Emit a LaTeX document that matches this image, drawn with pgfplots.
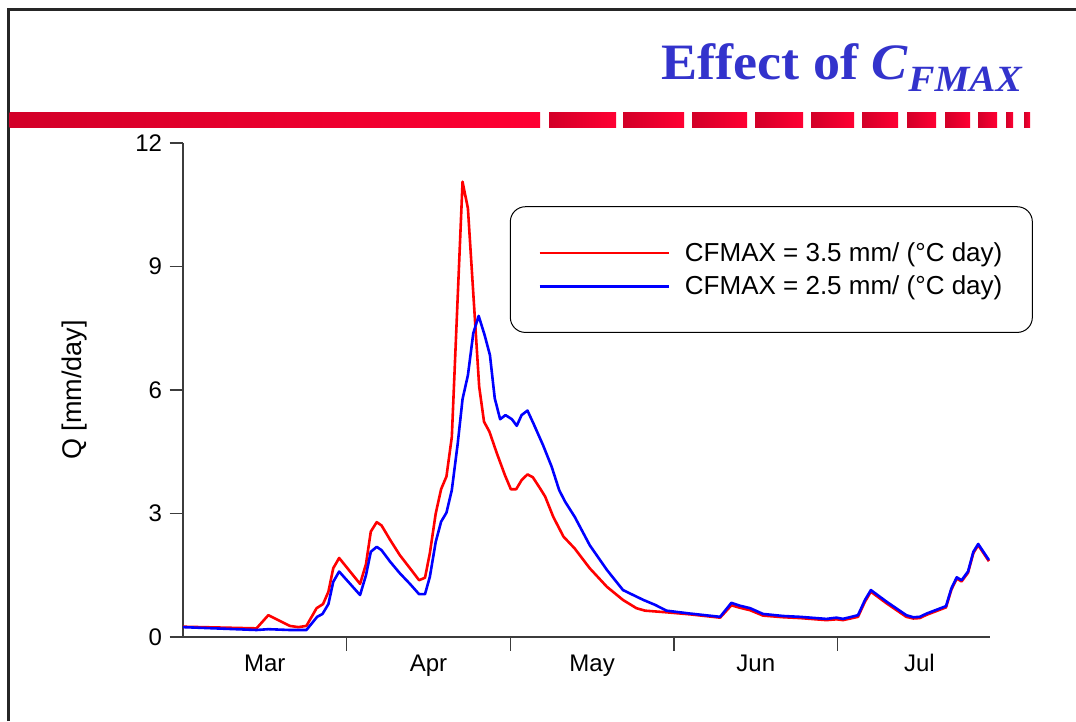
\documentclass[border=0pt]{standalone}
\usepackage{pgfplots}
\pgfplotsset{compat=1.18}
\usepackage{fontspec}
\setmainfont{Liberation Sans}
\newfontfamily\titlefont{Liberation Serif}
\definecolor{titleblue}{RGB}{51,51,204}
\definecolor{barL}{RGB}{210,0,40}
\definecolor{barR}{RGB}{255,0,51}
\definecolor{axisgray}{RGB}{60,60,60}

\begin{document}
\begin{tikzpicture}[x=1pt,y=1pt]
\useasboundingbox (0,0) rectangle (1076,721);
\fill[white] (0,0) rectangle (1076,721);
% slide frame
\draw[line width=3pt, black!85] (8,0) -- (8,711.5) -- (1076,711.5);
% red header bar
\shade[left color=barL, right color=barR] (9.5,593) rectangle (540,608);
\foreach \a/\b in {549/616,623/684,692/747,755/803,811/854,862/898,907/936,945/970,978/997,1006/1013,1024/1030}{
  \shade[left color=barL, right color=barR] (\a,593) rectangle (\b,608);
}
% title
\node[anchor=base east, inner sep=0, text=titleblue] at (1022,641)
  {\scalebox{1.06}[1]{\titlefont\bfseries\fontsize{51}{51}\selectfont Effect of \textit{C}\raisebox{-12pt}{\fontsize{37}{37}\selectfont\itshape FMAX}}};

\begin{axis}[
  at={(183pt,84pt)}, anchor=south west,
  scale only axis, width=807pt, height=494pt,
  xmin=0, xmax=150.4, ymin=0, ymax=12,
  axis x line*=bottom, axis y line*=left,
  axis line style={axisgray, line width=1.2pt},
  every tick/.style={axisgray, line width=1.2pt},
  tick align=outside, major tick length=13.5pt,
  ytick={0,3,6,9,12},
  yticklabel style={xshift=-4pt},
  xtick={30.5,61,91.5,122}, xticklabels={},
  extra x ticks={15.25,45.75,76.25,106.75,137.25},
  extra x tick labels={Mar,Apr,May,Jun,Jul},
  extra x tick style={major tick length=14pt, tick style={draw=none}},
  ticklabel style={font=\fontsize{24}{24}\selectfont, text=black},
  /pgf/number format/assume math mode=true,
  ylabel={Q [mm/day]},
  ylabel style={font=\fontsize{27}{27}\selectfont, at={(axis description cs:-0.134,0.5)}, anchor=center},
  legend style={at={(rel axis cs:0.405,0.872)}, anchor=north west, draw=black, line width=1pt,
    rounded corners=15pt, fill=white, font=\fontsize{26}{26}\selectfont,
    inner xsep=28pt, inner ysep=34pt, row sep=9pt,
    /tikz/every odd column/.append style={column sep=13pt}},
  legend cell align=left,
  legend image code/.code={\draw[#1, line width=2.6pt] (0pt,0pt) -- (129pt,0pt);},
]
\addplot[red, line width=2.6pt, line join=round] table {
0 0.25
13.7 0.21
15.9 0.53
19.9 0.27
21.5 0.24
23.0 0.27
24.9 0.70
26.1 0.80
27.1 1.10
28.0 1.67
29.1 1.92
33.0 1.29
34.1 1.77
35.0 2.56
36.1 2.79
37.0 2.71
38.6 2.36
40.4 1.99
42.3 1.67
44.0 1.38
45.1 1.44
46.0 2.03
47.1 3.00
48.1 3.59
49.1 3.90
50.1 4.86
52.1 11.06
53.1 10.41
55.2 6.08
56.1 5.23
57.1 4.99
58.5 4.46
60.0 3.93
61.1 3.59
62.1 3.59
63.1 3.81
64.2 3.95
65.2 3.88
66.5 3.62
67.5 3.41
69.0 2.92
70.9 2.44
73.0 2.15
75.8 1.67
79.0 1.22
82.0 0.90
84.5 0.70
86.1 0.64
90.1 0.60
94.5 0.55
100.1 0.47
102.2 0.77
103.8 0.71
105.7 0.65
108.1 0.52
111.9 0.48
115.0 0.46
119.9 0.41
121.8 0.43
123.0 0.41
125.8 0.49
127.1 0.86
128.2 1.10
131.1 0.82
134.8 0.49
136.1 0.45
137.3 0.46
138.6 0.54
142.2 0.72
143.2 1.15
144.2 1.42
145.1 1.35
146.3 1.56
147.3 2.04
148.2 2.23
150.2 1.84
};
\addlegendentry{CFMAX = 3.5 mm/ (°C day)}
\addplot[blue, line width=2.6pt, line join=round] table {
0 0.24
13.7 0.17
15.9 0.19
19.9 0.17
23.0 0.17
24.0 0.33
25.0 0.49
26.0 0.56
27.1 0.80
28.0 1.34
29.1 1.59
33.0 1.02
34.1 1.50
35.0 2.07
36.1 2.19
37.0 2.11
38.6 1.83
40.4 1.55
42.3 1.29
44.0 1.04
45.1 1.04
46.0 1.46
47.1 2.31
48.1 2.80
49.1 3.02
50.1 3.57
51.2 4.70
52.1 5.78
53.1 6.36
54.1 7.38
55.1 7.80
56.2 7.34
57.2 6.85
58.1 5.80
59.1 5.29
60.1 5.39
61.3 5.29
62.2 5.13
63.1 5.39
64.2 5.50
65.3 5.19
67.1 4.66
68.7 4.14
70.1 3.57
71.2 3.29
73.0 2.92
75.8 2.23
79.0 1.63
82.0 1.14
85.8 0.90
88.0 0.78
90.1 0.64
94.5 0.57
100.1 0.49
102.2 0.83
103.8 0.76
105.7 0.70
108.1 0.56
111.9 0.51
115.0 0.49
119.9 0.44
121.8 0.47
123.0 0.44
125.8 0.53
127.1 0.90
128.2 1.14
131.1 0.86
134.8 0.53
136.1 0.48
137.3 0.49
138.6 0.57
142.2 0.75
143.2 1.18
144.2 1.45
145.1 1.38
146.3 1.59
147.3 2.07
148.2 2.26
150.2 1.87
};
\addlegendentry{CFMAX = 2.5 mm/ (°C day)}
\end{axis}
\end{tikzpicture}
\end{document}
